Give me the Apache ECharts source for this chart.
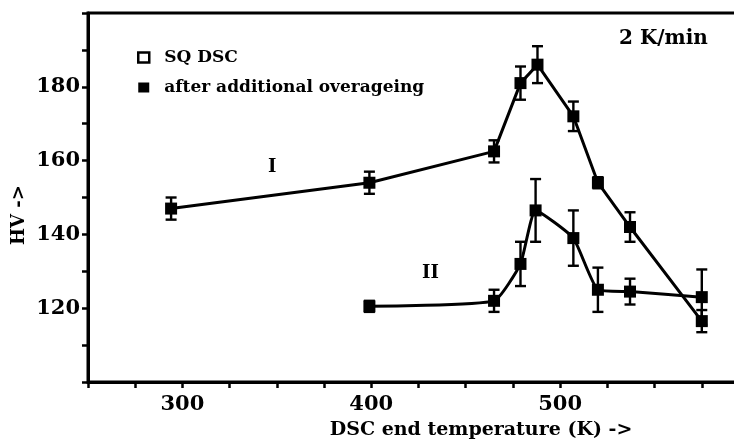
<!DOCTYPE html>
<html>
<head>
<meta charset="utf-8">
<script src="https://cdn.jsdelivr.net/npm/echarts@6/dist/echarts.min.js"></script>
<style>html,body{margin:0;padding:0;background:#fff}#c{width:734px;height:440px}</style>
</head>
<body>
<div id="c"></div>
<script>
// Curve I (SQ DSC)
var tempI = [294, 399, 465, 479, 488, 507, 520, 537, 575];
var hvI   = [147, 154, 162.5, 181, 186, 172, 154, 142, 116.5];
var errI  = [3, 3, 3, 4.5, 5, 4, 1.5, 4, 3];
// Curve II (after additional overageing)
var tempII = [399, 465, 479, 487, 507, 520, 537, 575];
var hvII   = [120.5, 122, 132, 146.5, 139, 125, 124.5, 123];
var errII  = [1.5, 3, 6, 8.5, 7.5, 6, 3.5, 7.5];
var xTickLabels = [300, 400, 500];
var yTickLabels = [120, 140, 160, 180];

var FONT = 'DejaVu Serif';
function pairs(xs, ys) { return xs.map(function (x, i) { return [x, ys[i]]; }); }
function errData(xs, ys, es) { return xs.map(function (x, i) { return [x, ys[i] - es[i], ys[i] + es[i]]; }); }

function renderErr(params, api) {
  var x = api.value(0);
  var lo = api.coord([x, api.value(1)]);
  var hi = api.coord([x, api.value(2)]);
  var w = 5.5;
  var st = { stroke: '#000', lineWidth: 2.4 };
  return {
    type: 'group',
    children: [
      { type: 'line', shape: { x1: lo[0], y1: lo[1], x2: hi[0], y2: hi[1] }, style: st },
      { type: 'line', shape: { x1: lo[0] - w, y1: lo[1], x2: lo[0] + w, y2: lo[1] }, style: st },
      { type: 'line', shape: { x1: hi[0] - w, y1: hi[1], x2: hi[0] + w, y2: hi[1] }, style: st }
    ]
  };
}

var chart = echarts.init(document.getElementById('c'));
chart.setOption({
  animation: false,
  backgroundColor: '#fff',
  textStyle: { fontFamily: FONT },
  grid: { left: 88, top: 13, width: 661, bottom: 58, outerBoundsMode: 'none', containLabel: false, show: true, borderColor: '#000', borderWidth: 3 },
  legend: {
    orient: 'vertical',
    left: 137, top: 49, padding: 0,
    itemWidth: 11, itemHeight: 10, itemGap: 13,
    textStyle: { fontFamily: FONT, fontWeight: 'bold', fontSize: 17, color: '#000', padding: [0, 0, 0, 10] },
    data: [
      { name: 'SQ DSC', icon: 'rect', itemStyle: { color: '#fff', borderColor: '#000', borderWidth: 2.5 } },
      { name: 'after additional overageing', icon: 'rect', itemStyle: { color: '#000' } }
    ]
  },
  xAxis: {
    type: 'value', min: 250, max: 600, interval: 25,
    axisLine: { lineStyle: { color: '#000', width: 3 } },
    axisTick: { inside: false, length: 6, lineStyle: { color: '#000', width: 2.5 } },
    axisLabel: {
      margin: 12, color: '#000', fontFamily: FONT, fontWeight: 'bold', fontSize: 21,
      formatter: function (v) { return xTickLabels.indexOf(v) >= 0 ? String(v) : ''; }
    },
    splitLine: { show: false }
  },
  yAxis: {
    type: 'value', min: 100, max: 200, interval: 10,
    axisLine: { lineStyle: { color: '#000', width: 3 } },
    axisTick: { inside: false, length: 6, lineStyle: { color: '#000', width: 2.5 } },
    axisLabel: {
      margin: 8, color: '#000', fontFamily: FONT, fontWeight: 'bold', fontSize: 21,
      formatter: function (v) { return yTickLabels.indexOf(v) >= 0 ? String(v) : ''; }
    },
    splitLine: { show: false }
  },
  graphic: [
    { type: 'text', x: 481, y: 430, style: { text: 'DSC end temperature (K) ->', font: 'bold 19px "DejaVu Serif"', fill: '#000', align: 'center', verticalAlign: 'middle' } },
    { type: 'text', x: 19, y: 215, rotation: Math.PI / 2, style: { text: 'HV ->', font: 'bold 18px "DejaVu Serif"', fill: '#000', align: 'center', verticalAlign: 'middle' } },
    { type: 'text', left: 619, top: 29, style: { text: '2 K/min', font: 'bold 20px "DejaVu Serif"', fill: '#000' } },
    { type: 'text', left: 268, top: 158, style: { text: 'I', font: 'bold 18px "DejaVu Serif"', fill: '#000' } },
    { type: 'text', left: 422, top: 264, style: { text: 'II', font: 'bold 18px "DejaVu Serif"', fill: '#000' } }
  ],
  series: [
    {
      name: 'SQ DSC', type: 'line', data: pairs(tempI, hvI), smooth: false,
      symbol: 'rect', symbolSize: 12, itemStyle: { color: '#000' },
      lineStyle: { color: '#000', width: 3 }, z: 3
    },
    {
      name: 'after additional overageing', type: 'line', data: pairs(tempII, hvII), smooth: 0.15,
      symbol: 'rect', symbolSize: 12, itemStyle: { color: '#000' },
      lineStyle: { color: '#000', width: 3 }, z: 3
    },
    { type: 'custom', renderItem: renderErr, data: errData(tempI, hvI, errI), z: 4, silent: true },
    { type: 'custom', renderItem: renderErr, data: errData(tempII, hvII, errII), z: 4, silent: true }
  ]
});
</script>
</body>
</html>
